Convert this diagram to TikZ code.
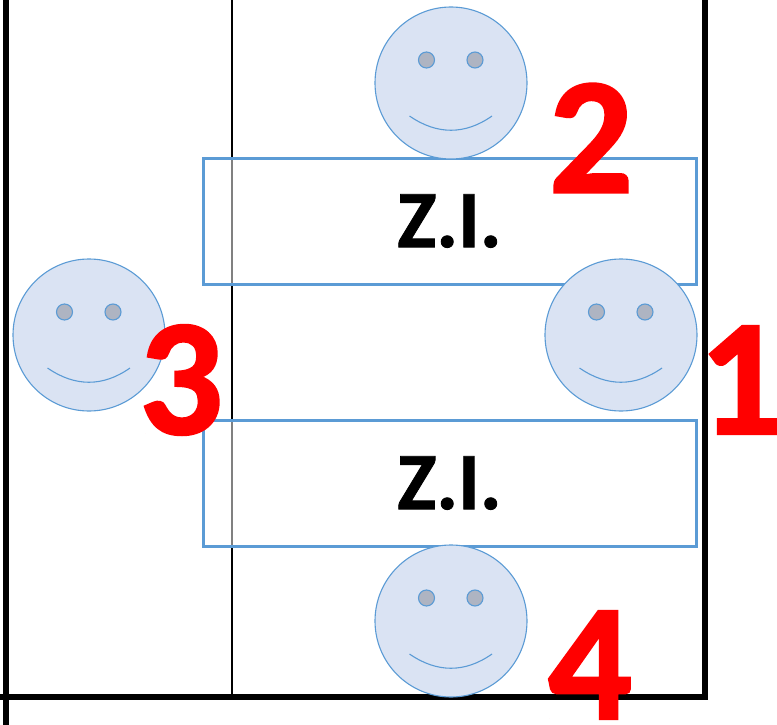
\documentclass[tikz,border=0pt]{standalone}
\usepackage{fontspec}
\setmainfont{Carlito}
\newfontfamily\numfont[BoldFeatures={FakeBold=1.5}]{Carlito}
\newfontfamily\zonefont[BoldFeatures={FakeBold=1}]{Carlito}
\definecolor{zoneblue}{HTML}{5B9BD5}
\definecolor{facefill}{HTML}{DAE3F3}
\definecolor{eyefill}{HTML}{AEB4C2}
\tikzset{
  heavy/.style={line width=6.5pt,black,line cap=butt},
  thinline/.style={line width=2pt,black},
  zone/.style={draw=zoneblue,line width=3pt,fill=white,fill opacity=.5,text opacity=1,rectangle,inner sep=0pt,minimum width=493pt,minimum height=126pt,font=\fontsize{81.5}{82}\zonefont\bfseries},
  facecircle/.style={circle,draw=zoneblue,line width=1.1pt,fill=facefill,minimum size=152pt,inner sep=0pt},
  eye/.style={circle,draw=zoneblue,line width=1.1pt,fill=eyefill,minimum size=16pt,inner sep=0pt},
  smile/.style={draw=zoneblue,line width=1.1pt},
  num/.style={text=red,font=\fontsize{166}{166}\numfont\bfseries,inner sep=0pt}
}
\newcommand{\smiley}[3]{%
  \node[facecircle] (f#1) at (#2,#3) {};
  \node[eye] (f#1l) at (#2-24.5,#3-23) {};
  \node[eye] (f#1r) at (#2+24,#3-23) {};
  \coordinate (f#1a) at (#2-41.5,#3+33);
  \coordinate (f#1b) at (#2+41,#3+33);
  \draw[smile] (f#1a) .. controls (#2-14,#3+52) and (#2+14,#3+52) .. (f#1b);
}
\begin{document}
\begin{tikzpicture}[x=1pt,y=-1pt]
\useasboundingbox (0,0) rectangle (777,725);
\coordinate (lt) at (6,0); \coordinate (lb) at (6,725);
\coordinate (rt) at (705,0); \coordinate (rb) at (705,700);
\coordinate (bl) at (0,697); \coordinate (br) at (708,697);
\coordinate (mt) at (232.3,0); \coordinate (mb) at (232.3,697);
\draw[heavy] (lt) -- (lb);
\draw[heavy] (rt) -- (rb);
\draw[heavy] (bl) -- (br);
\draw[thinline] (mt) -- (mb);
\node[zone] (z1) at (449.5,221) {Z.I.};
\node[zone] (z2) at (449.5,483) {Z.I.};
\smiley{a}{451}{83}
\smiley{b}{621}{335}
\smiley{c}{89}{335}
\smiley{d}{451}{621}
\node[num] (n2) at (591,138) {2};
\node[num] (n3) at (181,380) {3};
\node[num] (n1) at (741,380) {1};
\node[num] (n4) at (590,665) {4};
\end{tikzpicture}
\end{document}
